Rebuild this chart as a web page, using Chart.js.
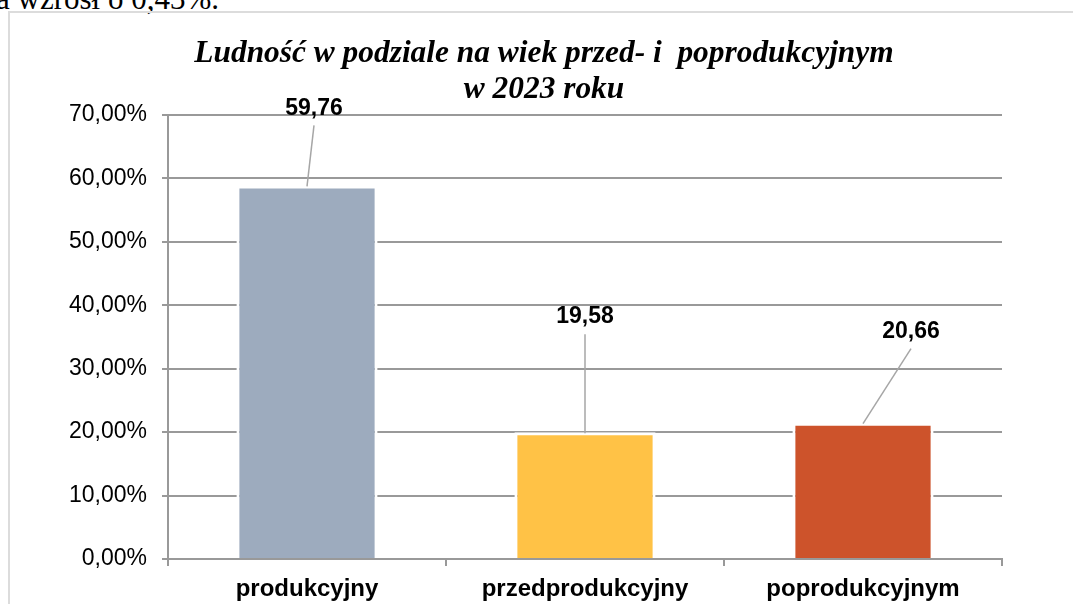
<!DOCTYPE html>
<html>
<head>
<meta charset="utf-8">
<script src="https://cdn.jsdelivr.net/npm/chart.js@4/dist/chart.umd.min.js"></script>
<style>
    html, body { margin: 0; padding: 0; background: #fff; overflow: hidden; }
    #wrap { position: relative; width: 1073px; height: 604px; }
    #above {
        position: absolute; left: -4px; top: -17px;
        font-family: "Liberation Serif", serif; font-size: 31px; line-height: 31px; color: #000;
        white-space: nowrap;
    }
    #frame {
        position: absolute; left: 8px; top: 11px; width: 1100px; height: 640px;
        border: 2px solid #dcdcdc;
    }
    #chart { position: absolute; left: 0; top: 0; }
</style>
</head>
<body>
<div id="wrap">
    <div id="above">a wzrósł o 0,43%.</div>
    <div id="frame"></div>
    <canvas id="chart" width="1073" height="604"></canvas>
</div>
<script>
const categories = ["produkcyjny", "przedprodukcyjny", "poprodukcyjnym"];
const barValues = [58.9, 20.0, 21.5];
const valueLabels = ["59,76", "19,58", "20,66"];
const barColors = ["#9dabbe", "#ffc246", "#cd532b"];
const titleLines = ["Ludność w podziale na wiek przed- i  poprodukcyjnym", "w 2023 roku"];
const yMax = 70;
const yStep = 10;

// where each value label sits relative to the top of its bar (px)
const labelOffsets = [[7, -77], [0, -115], [48, -91]];

const gridColor = "#999999";

const titlePlugin = {
    id: "titleText",
    afterDraw(chart) {
        const ctx = chart.ctx;
        ctx.save();
        ctx.fillStyle = "#000";
        ctx.font = "italic bold 31.4px 'Liberation Serif'";
        ctx.textAlign = "center";
        ctx.textBaseline = "alphabetic";
        ctx.fillText(titleLines[0], 544, 62);
        ctx.fillText(titleLines[1], 544, 98);
        ctx.restore();
    },
};

const calloutPlugin = {
    id: "callouts",
    afterDatasetsDraw(chart) {
        const ctx = chart.ctx;
        const meta = chart.getDatasetMeta(0);
        ctx.save();
        meta.data.forEach((bar, i) => {
            const [dx, dy] = labelOffsets[i];
            const lx = bar.x + dx;
            const ly = bar.y + dy;
            ctx.strokeStyle = "#a6a6a6";
            ctx.lineWidth = 1.5;
            ctx.beginPath();
            ctx.moveTo(lx, ly + 17);
            ctx.lineTo(bar.x, bar.y + 1);
            ctx.stroke();
            ctx.fillStyle = "#000";
            ctx.font = "bold 23px 'Liberation Sans'";
            ctx.textAlign = "center";
            ctx.textBaseline = "middle";
            ctx.fillText(valueLabels[i], lx, ly);
        });
        ctx.restore();
    },
};

new Chart(document.getElementById("chart"), {
    type: "bar",
    data: {
        labels: categories,
        datasets: [
            {
                data: barValues,
                backgroundColor: barColors,
                borderColor: "#ffffff",
                borderWidth: 3,
                categoryPercentage: 1,
                barPercentage: 0.508,
            },
        ],
    },
    options: {
        responsive: false,
        animation: false,
        devicePixelRatio: 1,
        layout: { padding: { top: 115, right: 71, bottom: 0, left: 0 } },
        plugins: {
            legend: { display: false },
            title: { display: false },
            tooltip: { enabled: false },
        },
        scales: {
            x: {
                offset: true,
                grid: {
                    offset: true,
                    drawOnChartArea: false,
                    drawTicks: true,
                    tickLength: 7,
                    color: gridColor,
                    lineWidth: 2,
                },
                border: { color: gridColor, width: 2 },
                ticks: {
                    color: "#000",
                    padding: 9,
                    font: { family: "'Liberation Sans'", size: 24, weight: "bold" },
                },
                afterFit(scale) { scale.height = 45; },
            },
            y: {
                min: 0,
                max: yMax,
                grid: {
                    color: gridColor,
                    lineWidth: 2,
                    tickLength: 6,
                },
                border: { color: gridColor, width: 2 },
                ticks: {
                    stepSize: yStep,
                    color: "#000",
                    padding: 15,
                    font: { family: "'Liberation Sans'", size: 23 },
                    callback: (v) => v.toFixed(2).replace(".", ",") + "%",
                },
                afterFit(scale) { scale.width = 168; },
            },
        },
    },
    plugins: [titlePlugin, calloutPlugin],
});
</script>
</body>
</html>
